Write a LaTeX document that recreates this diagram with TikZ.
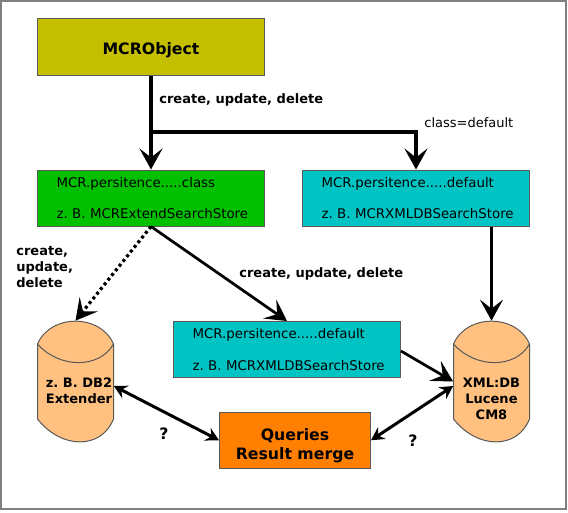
\documentclass[tikz,border=0pt]{standalone}
\usepackage{fontspec}
\setmainfont{DejaVu Sans}
\usetikzlibrary{arrows.meta}
\frenchspacing
\definecolor{mcrolive}{HTML}{C4C000}
\definecolor{mcrgreen}{HTML}{00C000}
\definecolor{mcrteal}{HTML}{00C4C4}
\definecolor{mcrorange}{HTML}{FF8000}
\definecolor{mcrcan}{HTML}{FFC080}
\newcommand{\storelines}[2]{\hspace*{0.38cm}#1\\\hspace*{0.38cm}#2}
\tikzset{
  boxbase/.style={draw=black!65, line width=0.02cm, rectangle, inner sep=0pt},
  storebox/.style={boxbase, text width=4.54cm, minimum height=1.12cm, align=left, font=\fontsize{7.6}{18.1}\selectfont},
  tinylabel/.style={inner sep=0pt, font=\fontsize{7.4}{9.1}\selectfont},
  boldlabel/.style={inner sep=0pt, align=left, font=\fontsize{7.4}{9.1}\selectfont\bfseries},
  biglabel/.style={inner sep=0pt, align=center, font=\fontsize{8.95}{10.8}\selectfont\bfseries},
  flow/.style={line width=0.065cm, -{Stealth[length=0.42cm,width=0.46cm,inset=0.18cm]}},
  query/.style={line width=0.06cm, {Stealth[length=0.26cm,width=0.28cm,inset=0.09cm]}-{Stealth[length=0.26cm,width=0.28cm,inset=0.09cm]}},
  dbcan/.pic={
    \draw[draw=black!65, line width=0.02cm, fill=mcrcan] (-38,-37.5) .. controls (-25,-68) and (25,-68) .. (38,-37.5) -- (38,37.5) .. controls (26,68) and (-14,68) .. (-38,37.5) -- cycle;
    \draw[draw=black!65, line width=0.02cm] (-38,-37.5) .. controls (-16,-12.7) and (24,-12.7) .. (38,-37.5);
    \node[inner sep=0pt, minimum width=1.52cm, minimum height=2.42cm](-body) at (0,0) {};
  }
}
\begin{document}
\begin{tikzpicture}[x=0.02cm, y=-0.02cm]
\useasboundingbox (0,0) rectangle (568,512);
\node[draw=black!50, line width=0.04cm, rectangle, inner sep=0pt, minimum width=11.3cm, minimum height=10.16cm](frame) at (283.5,255) {};

\node[boxbase, fill=mcrolive, minimum width=4.54cm, minimum height=1.14cm, biglabel](mcrobject) at (151,47) {\rule{0pt}{0.36cm}MCRObject};
\node[storebox, fill=mcrgreen](classstore) at (151,198) {\storelines{MCR.persitence.....class}{z. B. MCRExtendSearchStore}};
\node[storebox, fill=mcrteal](defaultstore) at (416,198) {\storelines{MCR.persitence.....default}{z. B. MCRXMLDBSearchStore}};
\node[storebox, fill=mcrteal](middlestore) at (287,349.5) {\storelines{MCR.persitence.....default}{z. B. MCRXMLDBSearchStore}};
\node[boxbase, fill=mcrorange, minimum width=3.02cm, minimum height=1.11cm, biglabel](queries) at (295,440.25) {\rule{0pt}{0.46cm}Queries\\Result merge};

\pic (dbleft) at (75.5,381.5) {dbcan};
\pic (dbright) at (491.5,381.5) {dbcan};
\node[boldlabel, align=center](dbleft_text) at (79,391) {z. B. DB2\\Extender};
\node[boldlabel, align=center](dbright_text) at (491.5,399) {XML:DB\\Lucene\\CM8};

\coordinate (branch) at (151,132);
\draw[flow](mcrobject) to (classstore);
\draw[flow](branch) -| (defaultstore.north);
\draw[flow](defaultstore.south -| dbright-body.north) to (dbright-body.north);
\draw[flow, dash pattern=on 0.06cm off 0.06cm](classstore.south) to (dbleft-body.north);
\draw[flow, line width=0.055cm](classstore.south) to (middlestore.north);
\draw[flow, line width=0.055cm]([yshift=-0.03cm]middlestore.east) to (dbright-body.west);
\draw[query]([yshift=-0.09cm]dbleft-body.east) to (queries.west);
\draw[query](queries.east) to ([yshift=-0.09cm]dbright-body.west);

\node[boldlabel, anchor=west](create_top) at (159,100) {create, update, delete};
\node[tinylabel, anchor=west](class_default) at (424,122.5) {class=default};
\node[boldlabel, anchor=west](create_left) at (16,267) {create,\\update,\\delete};
\node[boldlabel, anchor=west](create_mid) at (239,274) {create, update, delete};
\node[biglabel](query_left) at (164,434) {?};
\node[biglabel](query_right) at (413,441) {?};
\end{tikzpicture}
\end{document}
